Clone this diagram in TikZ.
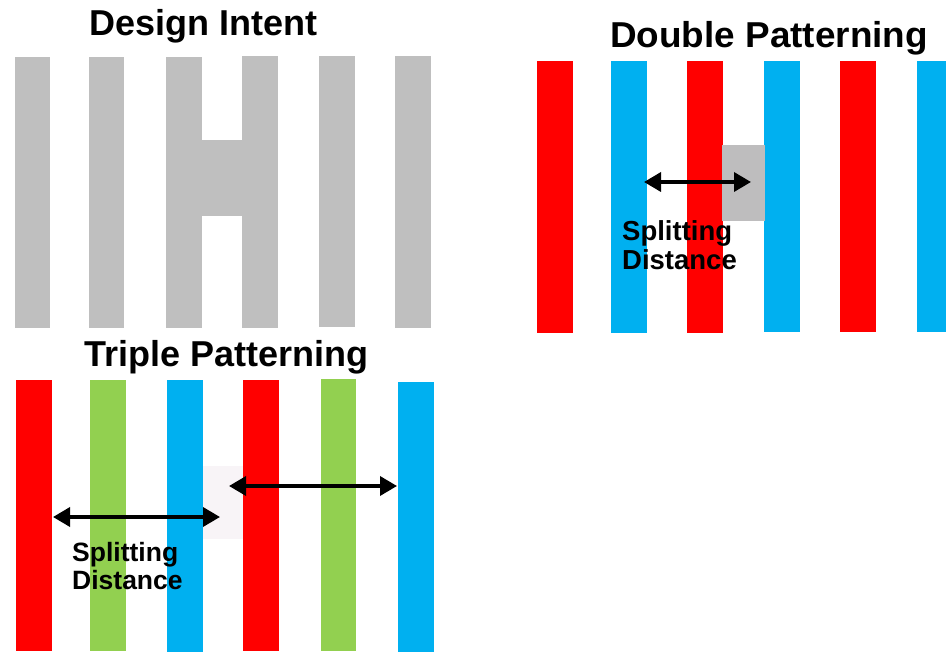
\documentclass[tikz,border=0pt]{standalone}
\usepackage{fontspec}
\setmainfont{Liberation Sans}
\usetikzlibrary{arrows.meta}
\definecolor{barred}{RGB}{255,0,0}
\definecolor{barblue}{RGB}{0,176,240}
\definecolor{bargreen}{RGB}{146,208,80}
\definecolor{bargray}{RGB}{191,191,191}
\definecolor{stitchgray}{RGB}{190,189,190}
\definecolor{stitchfaint}{RGB}{248,244,247}
\tikzset{
  title/.style={anchor=base west, inner sep=0pt, font=\fontsize{36}{40}\selectfont\bfseries},
  splitlabel/.style={anchor=base west, inner sep=0pt, align=left},
  dimarrow/.style={line width=3.5pt, {Triangle[length=17pt,width=19pt]}-{Triangle[length=17pt,width=19pt]}},
}
\begin{document}
\begin{tikzpicture}[x=1pt,y=-1pt]
\useasboundingbox (0,0) rectangle (946,652);
% Design Intent
\node[title] (ti1) at (89,36) {Design Intent};
\fill[bargray] (15,57) rectangle (50,328);
\fill[bargray] (89,57) rectangle (124,328);
\fill[bargray] (166,57) rectangle (202,328);
\fill[bargray] (242,56) rectangle (278,328);
\fill[bargray] (201,140) rectangle (243,216);
\fill[bargray] (319,56) rectangle (355,327);
\fill[bargray] (395,56) rectangle (431,328);
% Double Patterning
\node[title, xscale=1.025] (ti2) at (610,48) {Double Patterning};
\fill[barred] (537,61) rectangle (573,333);
\fill[barblue] (611,61) rectangle (647,333);
\fill[barred] (687,61) rectangle (723,333);
\fill[barblue] (764,61) rectangle (800,332);
\fill[barred] (840,61) rectangle (876,332);
\fill[barblue] (917,61) rectangle (946,332);
\fill[stitchgray] (722,145) rectangle (765,221);
\coordinate (dpa) at (644,182);
\coordinate (dpb) at (751,182);
\draw[dimarrow] (dpa) -- (dpb);
\node[splitlabel, font=\fontsize{27.5}{29}\selectfont\bfseries] (sd1) at (622,270) {Splitting\\Distance};
% Triple Patterning
\node[title] (ti3) at (84,367) {Triple Patterning};
\fill[barred] (16,380) rectangle (52,651);
\fill[bargreen] (90,380) rectangle (126,651);
\fill[barblue] (167,380) rectangle (203,652);
\fill[barred] (243,380) rectangle (279,651);
\fill[bargreen] (321,379) rectangle (356,651);
\fill[barblue] (398,382) rectangle (434,652);
\fill[stitchfaint] (203,466) rectangle (243,539);
\coordinate (tpa) at (53,517);
\coordinate (tpb) at (220,517);
\coordinate (tpc) at (229,486);
\coordinate (tpd) at (397,486);
\draw[dimarrow] (tpa) -- (tpb);
\draw[dimarrow] (tpc) -- (tpd);
\node[splitlabel, font=\fontsize{26.5}{28}\selectfont\bfseries] (sd2) at (72,589) {Splitting\\Distance};
\end{tikzpicture}
\end{document}
